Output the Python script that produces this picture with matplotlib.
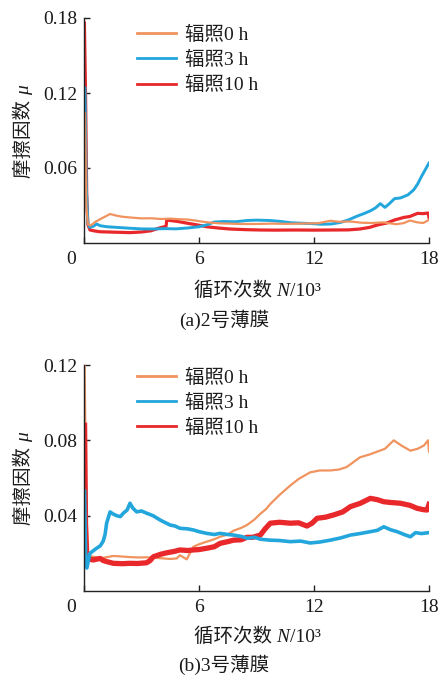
import matplotlib
matplotlib.use("Agg")
import matplotlib.pyplot as plt
from matplotlib.transforms import IdentityTransform

FAM = ['Liberation Serif', 'Noto Sans CJK SC', 'DejaVu Sans']
plt.rcParams['font.family'] = FAM
plt.rcParams['font.size'] = 14

labels = ['辐照0 h', '辐照3 h', '辐照10 h']
colors = ['#F0935E', '#22A6DC', '#E8282B']

# ---------- panel (a) 2号薄膜 ----------
a0_x = [0.05, 0.12, 0.2, 0.35, 0.6, 0.9, 1.15, 1.36, 1.6, 2.0, 2.5, 3.0, 3.5, 4.0, 4.5, 5.0, 5.4, 5.8,
        6.2, 6.6, 7.1, 7.6, 8.2, 9.0, 9.8, 10.6, 11.4, 12.2, 12.85, 13.3, 13.9, 14.5, 15.0, 15.6, 16.3,
        16.7, 17.0, 17.4, 17.7, 18.0]
a0_y = [0.104, 0.030, 0.0150, 0.0140, 0.0170, 0.0195, 0.0215, 0.0232, 0.0222, 0.0210, 0.0203, 0.0197,
        0.0198, 0.0192, 0.0195, 0.0190, 0.0188, 0.0180, 0.0170, 0.0163, 0.0157, 0.0155, 0.0152, 0.0152,
        0.0155, 0.0153, 0.0156, 0.0158, 0.0178, 0.0170, 0.0172, 0.0162, 0.0160, 0.0165, 0.0150, 0.0160,
        0.0180, 0.0165, 0.0160, 0.0185]

a3_x = [0.05, 0.12, 0.2, 0.3, 0.5, 0.66, 0.85, 1.2, 1.8, 2.4, 3.0, 3.6, 4.2, 4.8, 5.4, 6.0, 6.4, 6.8,
        7.3, 7.9, 8.5, 9.0, 9.7, 10.3, 10.8, 11.4, 11.9, 12.4, 12.9, 13.4, 13.8, 14.25, 14.6, 14.95,
        15.2, 15.46, 15.7, 15.9, 16.2, 16.5, 16.9, 17.2, 17.4, 17.6, 17.8, 18.0]
a3_y = [0.124, 0.045, 0.016, 0.0125, 0.0135, 0.0152, 0.0138, 0.0130, 0.0124, 0.0118, 0.0113, 0.0112,
        0.0115, 0.0113, 0.0120, 0.0130, 0.0145, 0.0168, 0.0172, 0.0170, 0.0180, 0.0183, 0.0180, 0.0172,
        0.0162, 0.0158, 0.0155, 0.0150, 0.0152, 0.0165, 0.0185, 0.0215, 0.0235, 0.0258, 0.0280, 0.0315,
        0.0285, 0.0310, 0.0355, 0.0360, 0.0385, 0.0425, 0.0470, 0.0530, 0.0585, 0.0640]

a10_x = [0.02, 0.08, 0.14, 0.2, 0.31, 0.6, 0.84, 1.5, 2.4, 3.0, 3.5, 3.97, 4.28, 4.32, 4.5, 4.9, 5.4,
         5.9, 6.4, 7.0, 7.6, 8.4, 9.2, 10.0, 11.0, 12.0, 13.0, 13.8, 14.4, 14.9, 15.3, 15.8, 16.2, 16.7,
         17.0, 17.4, 17.7, 17.95, 18.0]
a10_y = [0.176, 0.120, 0.040, 0.015, 0.0104, 0.0095, 0.0090, 0.0087, 0.0083, 0.0088, 0.0098, 0.0122,
         0.0133, 0.0184, 0.0180, 0.0172, 0.0158, 0.0145, 0.0130, 0.0120, 0.0112, 0.0107, 0.0104, 0.0103,
         0.0104, 0.0103, 0.0104, 0.0105, 0.0112, 0.0125, 0.0144, 0.0160, 0.0184, 0.0205, 0.0212, 0.0237,
         0.0235, 0.0240, 0.0205]

# ---------- panel (b) 3号薄膜 ----------
b0_x = [0.03, 0.1, 0.18, 0.3, 0.6, 0.84, 1.2, 1.53, 2.0, 2.4, 2.9, 3.27, 3.7, 4.15, 4.5, 4.84, 5.0,
        5.2, 5.36, 5.55, 5.71, 6.0, 6.4, 6.8, 7.1, 7.5, 7.8, 8.2, 8.5, 8.9, 9.2, 9.5, 9.72, 10.2, 10.76,
        11.2, 11.8, 12.3, 12.85, 13.3, 13.7, 14.0, 14.4, 14.9, 15.3, 15.7, 16.16, 16.6, 17.03, 17.4,
        17.73, 17.95, 18.0]
b0_y = [0.120, 0.060, 0.022, 0.0185, 0.0180, 0.0173, 0.0180, 0.0186, 0.0183, 0.0180, 0.0178, 0.0179,
        0.0176, 0.0173, 0.0170, 0.0173, 0.0190, 0.0178, 0.0168, 0.0205, 0.0235, 0.0248, 0.0262, 0.0275,
        0.0288, 0.0300, 0.0320, 0.0335, 0.0350, 0.0380, 0.0410, 0.0435, 0.0462, 0.0510, 0.0560, 0.0595,
        0.0630, 0.0640, 0.0640, 0.0645, 0.0658, 0.0680, 0.0710, 0.0725, 0.0740, 0.0755, 0.0800, 0.0770,
        0.0745, 0.0755, 0.0772, 0.0800, 0.0740]

b3_x = [0.03, 0.08, 0.15, 0.31, 0.5, 0.66, 0.85, 1.0, 1.1, 1.18, 1.36, 1.5, 1.7, 1.9, 2.05, 2.25, 2.4,
        2.55, 2.75, 3.0, 3.27, 3.6, 3.97, 4.2, 4.5, 4.75, 5.0, 5.4, 5.71, 6.0, 6.4, 6.8, 7.1, 7.5, 7.8,
        8.2, 8.5, 8.9, 9.2, 9.7, 10.2, 10.76, 11.3, 11.8, 12.3, 12.85, 13.4, 13.9, 14.4, 14.94, 15.3,
        15.64, 16.0, 16.34, 16.7, 17.03, 17.3, 17.6, 18.0]
b3_y = [0.053, 0.020, 0.0122, 0.0200, 0.0215, 0.0227, 0.0240, 0.0265, 0.0300, 0.0360, 0.0420, 0.0410,
        0.0400, 0.0395, 0.0413, 0.0430, 0.0466, 0.0440, 0.0420, 0.0425, 0.0413, 0.0400, 0.0377, 0.0365,
        0.0350, 0.0345, 0.0333, 0.0330, 0.0324, 0.0315, 0.0306, 0.0300, 0.0306, 0.0300, 0.0297, 0.0290,
        0.0280, 0.0285, 0.0275, 0.0270, 0.0268, 0.0262, 0.0265, 0.0255, 0.0260, 0.0270, 0.0282, 0.0297,
        0.0305, 0.0315, 0.0322, 0.0341, 0.0325, 0.0315, 0.0300, 0.0288, 0.0310, 0.0305, 0.0310]

b10_x = [0.03, 0.08, 0.15, 0.3, 0.49, 0.84, 1.0, 1.19, 1.53, 2.0, 2.4, 2.8, 3.27, 3.45, 3.62, 4.0, 4.32,
         4.7, 5.0, 5.4, 5.71, 6.0, 6.4, 6.8, 7.1, 7.5, 7.8, 8.2, 8.5, 8.8, 9.2, 9.45, 9.72, 10.2, 10.76,
         11.2, 11.63, 11.9, 12.16, 12.6, 13.03, 13.5, 13.9, 14.4, 14.94, 15.3, 15.64, 16.0, 16.5, 17.0,
         17.38, 17.7, 17.9, 18.0]
b10_y = [0.088, 0.035, 0.0175, 0.0168, 0.0165, 0.0173, 0.0162, 0.0156, 0.0147, 0.0145, 0.0147, 0.0146,
         0.0150, 0.0162, 0.0182, 0.0195, 0.0203, 0.0210, 0.0218, 0.0215, 0.0218, 0.0220, 0.0227, 0.0235,
         0.0253, 0.0262, 0.0270, 0.0272, 0.0285, 0.0285, 0.0297, 0.0330, 0.0360, 0.0365, 0.0360, 0.0362,
         0.0345, 0.0360, 0.0386, 0.0392, 0.0404, 0.0420, 0.0448, 0.0465, 0.0492, 0.0485, 0.0474, 0.0470,
         0.0466, 0.0455, 0.0439, 0.0432, 0.0430, 0.0460]

xticks = [0, 6, 12, 18]
xticklabels = ['', '6', '12', '18']
a_yticks = [0.06, 0.12, 0.18]
b_yticks = [0.04, 0.08, 0.12]

W, H = 442, 677
fig = plt.figure(figsize=(W / 100, H / 100), dpi=100)
ax1 = fig.add_axes([84 / W, 1 - 243 / H, 345 / W, 225 / H])
ax2 = fig.add_axes([84 / W, 1 - 591 / H, 345 / W, 226 / H])

txt = '#1a1a1a'


def style(ax, yticks, ymax, hs, leg_y):
    ax.set_xlim(0, 18)
    ax.set_ylim(0, ymax)
    for s in ['top', 'right']:
        ax.spines[s].set_visible(False)
    for s in ['left', 'bottom']:
        ax.spines[s].set_linewidth(1.0)
        ax.spines[s].set_color('#222222')
    ax.set_xticks(xticks)
    ax.set_xticklabels(xticklabels)
    ax.set_yticks(yticks)
    ax.set_yticklabels(['%.2f' % v for v in yticks])
    ax.tick_params(direction='in', length=4, width=1, colors='#222222', labelcolor=txt, labelsize=14)
    ax.tick_params(axis='x', pad=6)
    ax.tick_params(axis='y', pad=5)
    ax.annotate('0', xy=(0, 0), xycoords='data', xytext=(-9, -6), textcoords='offset points',
                ha='center', va='top', fontsize=14, color=txt)
    leg = ax.legend(handles=hs, loc='upper left', bbox_to_anchor=(0.155, leg_y), frameon=False,
                    fontsize=14, handlelength=2.0, handletextpad=0.45, labelspacing=0.36,
                    borderpad=0, borderaxespad=0)
    for t in leg.get_texts():
        t.set_color(txt)
    for ln in leg.get_lines():
        ln.set_linewidth(2.0)


# panel a: spike order -> orange on top, blue, red below
l10, = ax1.plot(a10_x, a10_y, color=colors[2], lw=2.3, label=labels[2])
l3, = ax1.plot(a3_x, a3_y, color=colors[1], lw=2.1, label=labels[1])
l0, = ax1.plot(a0_x, a0_y, color=colors[0], lw=1.6, label=labels[0])

# panel b: blue on top, red, orange below
m0, = ax2.plot(b0_x, b0_y, color=colors[0], lw=1.6, label=labels[0])
m10, = ax2.plot(b10_x, b10_y, color=colors[2], lw=3.8, label=labels[2])
m3, = ax2.plot(b3_x, b3_y, color=colors[1], lw=2.6, label=labels[1])

style(ax1, a_yticks, 0.18, [l0, l3, l10], 0.965)
style(ax2, b_yticks, 0.12, [m0, m3, m10], 0.985)

renderer = fig.canvas.get_renderer()


def pieces_text(pieces, cx, base, vertical=False):
    """pieces: list of (string, dict of text kwargs); cx: centre along text direction (px from
    left / top), base: baseline position (px from top / left)."""
    objs = []
    for s, kw in pieces:
        t = fig.text(0, 0, s, transform=IdentityTransform(), fontsize=14, color=txt,
                     ha='left', va='baseline', rotation=90 if vertical else 0,
                     rotation_mode='anchor', **kw)
        objs.append(t)
    sizes = []
    for t in objs:
        bb = t.get_window_extent(renderer)
        sizes.append(bb.height if vertical else bb.width)
    total = sum(sizes)
    if vertical:
        pos = (H - cx) - total / 2.0
        for t, sz in zip(objs, sizes):
            t.set_position((base, pos))
            pos += sz
    else:
        pos = cx - total / 2.0
        for t, sz in zip(objs, sizes):
            t.set_position((pos, H - base))
            pos += sz


ylab = [('摩擦因数 ', {}), ('μ', {'style': 'italic', 'family': 'Liberation Serif'})]
xlab = [('循环次数 ', {}), ('N', {'style': 'italic', 'family': 'Liberation Serif'}),
        ('/10³', {'family': 'Liberation Serif'})]

pieces_text(ylab, 132, 29, vertical=True)
pieces_text(ylab, 479, 29, vertical=True)
pieces_text(xlab, 257, 296)
pieces_text(xlab, 257, 642)

fig.text(224 / W, 1 - 320 / H, '(a)2号薄膜', ha='center', va='center', fontsize=14, color=txt)
fig.text(224 / W, 1 - 665 / H, '(b)3号薄膜', ha='center', va='center', fontsize=14, color=txt)

fig.savefig('out.png', dpi=100, facecolor='white')
